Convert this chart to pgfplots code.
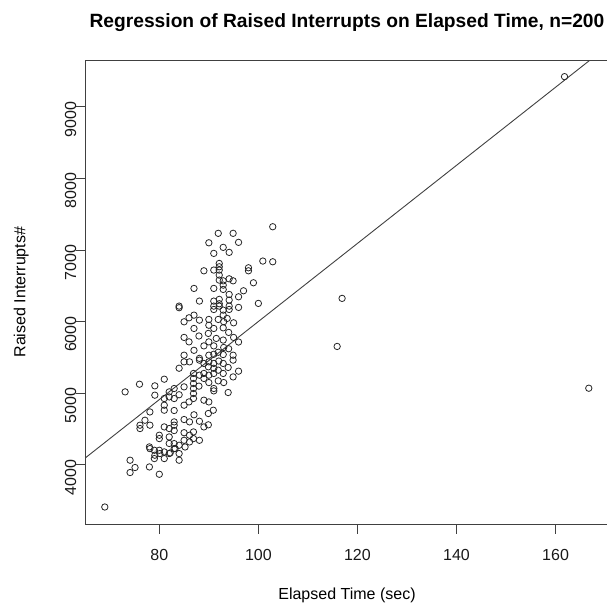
\documentclass[border=0pt]{standalone}
\usepackage{fontspec}
\setmainfont{Liberation Sans}
\usepackage{pgfplots}
\pgfplotsset{compat=1.18}
\pgfplotstableread{
x y
69.0 3413
161.8 9420
166.7 5071
116.9 6325
115.9 5654
102.9 7325
91.9 7233
94.9 7233
90.0 7101
96.0 7107
92.9 7037
94.1 6967
91.0 6953
100.9 6846
102.9 6836
92.1 6813
92.1 6766
92.1 6720
89.0 6710
98.0 6752
98.0 6710
92.1 6650
94.1 6598
94.9 6570
92.9 6570
92.9 6510
92.9 6450
99.0 6543
87.0 6464
91.0 6464
97.0 6431
96.0 6347
88.1 6287
91.0 6287
92.1 6311
94.1 6301
100.0 6255
84.0 6217
84.0 6195
91.0 6217
91.0 6170
92.1 6217
94.1 6217
94.1 6170
96.0 6199
92.9 6161
87.0 6091
86.0 6054
85.0 5998
88.1 6021
90.0 6031
91.9 6031
93.7 6045
92.9 6091
95.0 5984
87.0 5905
91.0 5905
92.9 5914
89.9 5836
91.5 5766
85.0 5780
86.0 5718
92.9 5743
89.0 5662
90.0 5718
91.0 5662
94.0 5622
96.0 5716
91.9 5573
85.0 5532
88.1 5488
90.0 5532
91.0 5545
92.9 5541
94.9 5532
89.9 5370
91.0 5349
85.0 5439
86.1 5439
88.1 5463
89.0 5417
90.0 5439
91.0 5417
92.9 5417
94.9 5463
96.0 5309
94.9 5229
93.9 5361
91.9 5323
92.9 5277
91.0 5277
90.0 5253
89.0 5277
89.0 5207
88.1 5253
86.9 5277
86.9 5207
86.9 5137
86.9 5067
86.9 4997
86.9 4928
91.9 5174
91.0 5067
91.0 5034
89.0 4904
90.0 4880
90.9 4764
89.9 4718
93.9 5011
85.0 4834
73.1 5020
76.0 5127
79.1 5104
81.0 5197
79.1 4974
82.0 5020
83.0 5067
82.0 4950
81.0 4927
83.0 4927
81.0 4834
81.0 4764
78.1 4740
77.1 4624
76.1 4555
76.1 4508
78.1 4555
86.1 4601
85.0 4634
83.0 4601
83.0 4555
81.0 4531
82.0 4508
80.0 4415
80.0 4368
79.0 4205
78.1 4228
80.0 4205
79.0 4089
81.0 4089
83.0 4298
83.0 4228
84.0 4275
84.0 4159
84.0 4066
86.1 4321
86.1 4415
86.9 4461
88.1 4344
89.0 4531
86.9 4368
85.0 4344
82.0 4391
82.0 4159
81.0 4182
78.0 3972
80.0 3870
74.1 4066
74.1 3894
75.1 3964
78.0 4252
79.1 4136
82.2 4168
83.2 4229
85.2 4251
80.1 4159
84.0 4980
85.0 5090
83.0 4760
86.0 4880
88.1 4610
89.9 4560
91.0 6720
92.1 6580
94.1 6380
92.1 6250
93.0 6000
94.0 5850
90.0 5950
88.0 5800
87.0 5600
93.0 5640
95.0 5780
92.0 5450
90.0 5150
88.0 5100
93.0 5150
84.0 5350
83.0 4480
82.0 4300
85.0 4450
87.0 4700
}\pts
\begin{document}
\begin{tikzpicture}[x=1pt,y=1pt]
\begin{axis}[
  at={(0,0)}, anchor=south west,
  scale only axis, width=522.1pt, height=464pt,
  xmin=65.15, xmax=170.6, ymin=3172, ymax=9652,
  axis line style={draw=black!75, line width=0.9pt},
  xtick={80,100,120,140,160}, ytick={4000,5000,6000,7000,8000,9000},
  tick align=outside, major tick length=9.5pt,
  every tick/.style={draw=black!75, line width=0.9pt},
  xtick pos=bottom, ytick pos=left,
  /pgf/number format/assume math mode=true,
  /pgf/number format/1000 sep={},
  ticklabel style={font=\fontsize{16}{18}\selectfont, text=black!90},
  xticklabel style={anchor=base, yshift=-26.5pt},
  yticklabel style={rotate=90, anchor=base, xshift=-12.5pt},
  clip=true,
]
\addplot[only marks, mark=o, mark size=3.2pt, black!85, line width=0.8pt] table[x=x,y=y] {\pts};
\addplot[black!75, line width=0.9pt] coordinates {(60,3822) (175,10090)};
\end{axis}
\node[anchor=base, font=\fontsize{19.2}{22}\selectfont\bfseries] at (261.1,496.3) {Regression of Raised Interrupts on Elapsed Time, n=200};
\node[anchor=base, font=\fontsize{16}{18}\selectfont] at (261.1,-75) {Elapsed Time (sec)};
\node[anchor=base, rotate=90, font=\fontsize{16}{18}\selectfont] at (-60.3,232) {Raised Interrupts\#};
\pgfresetboundingbox
\path[use as bounding box] (-85.7,-79) rectangle (521.0,524);
\end{tikzpicture}
\end{document}
